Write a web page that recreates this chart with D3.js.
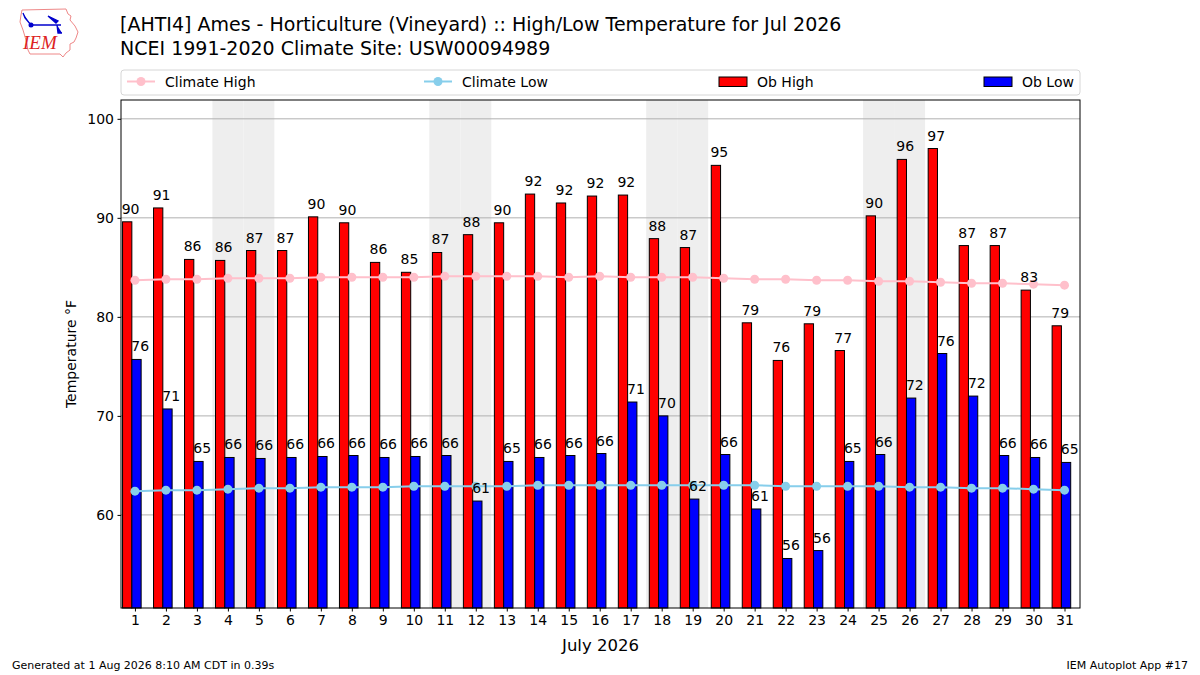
<!DOCTYPE html>
<html>
<head>
<meta charset="utf-8">
<script src="https://cdn.jsdelivr.net/npm/d3@7"></script>
<style>
  body { margin: 0; background: #fff; }
  svg { font-family: "DejaVu Sans", sans-serif; }
</style>
</head>
<body>
<div id="chart"></div>
<script>
// data
var days = d3.range(1, 32);
var obHigh = [89.6, 91.0, 85.8, 85.7, 86.7, 86.7, 90.1, 89.5, 85.5, 84.5,
              86.5, 88.3, 89.5, 92.4, 91.5, 92.2, 92.3, 87.9, 87.0, 95.3,
              79.4, 75.6, 79.3, 76.6, 90.2, 95.9, 97.0, 87.2, 87.2, 82.7, 79.1];
var obLow = [75.7, 70.7, 65.4, 65.8, 65.7, 65.8, 65.9, 66.0, 65.8, 65.9,
             66.0, 61.4, 65.4, 65.8, 66.0, 66.2, 71.4, 70.0, 61.6, 66.1,
             60.6, 55.6, 56.4, 65.4, 66.1, 71.8, 76.3, 72.0, 66.0, 65.8, 65.3];
var climHigh = [83.7, 83.8, 83.8, 83.9, 83.9, 83.9, 84.0, 84.0, 84.0, 84.0,
                84.1, 84.1, 84.1, 84.1, 84.0, 84.1, 84.0, 84.0, 84.0, 83.9,
                83.8, 83.8, 83.7, 83.7, 83.6, 83.6, 83.5, 83.4, 83.4, 83.3, 83.2];
var climLow = [62.4, 62.5, 62.5, 62.6, 62.7, 62.7, 62.8, 62.8, 62.8, 62.9,
               62.9, 62.9, 62.9, 63.0, 63.0, 63.0, 63.0, 63.0, 63.0, 63.0,
               63.0, 62.9, 62.9, 62.9, 62.9, 62.8, 62.8, 62.7, 62.7, 62.6, 62.5];
var weekendDays = [4, 5, 11, 12, 18, 19, 25, 26];
var yTicks = [60, 70, 80, 90, 100];

var W = 1200, H = 675;
var margin = {top: 100, right: 120, bottom: 67, left: 121},
    width = W - margin.left - margin.right,
    height = H - margin.top - margin.bottom;

var svg = d3.select("#chart")
  .append("svg")
    .attr("width", W)
    .attr("height", H);

// logo
var logo = svg.append("g");
logo.append("path")
    .attr("d", "M22,10 L66,9 L68,14 L71,16 L70,20 L75,26 L78,32 L76,38 L74,42 L70,44 L70,50 L66,53 L63,57 L60,54 L30,54 L28,50 L26,40 L23,30 L20,22 L21,15 Z")
    .attr("fill", "none").attr("stroke", "#e88").attr("stroke-width", 1);
logo.append("line").attr("x1", 31).attr("y1", 25).attr("x2", 61).attr("y2", 25)
    .attr("stroke", "#00c").attr("stroke-width", 1.5);
logo.append("circle").attr("cx", 31).attr("cy", 25).attr("r", 2.5).attr("fill", "#00c");
logo.append("path").attr("d", "M23,13 L25,18 L31,25 M48,16 L58,21 L56,23 Z M57,25 L58,33 L62,33")
    .attr("stroke", "#00c").attr("fill", "#00c").attr("stroke-width", 1.3);
logo.append("text").attr("x", 23).attr("y", 49)
    .style("font-family", "'Liberation Serif', serif").style("font-style", "italic")
    .style("font-size", "19px").attr("fill", "#d22").text("IEM");

// titles
svg.append("text").attr("x", 120).attr("y", 31)
    .style("font-size", "19px")
    .text("[AHTI4] Ames - Horticulture (Vineyard) :: High/Low Temperature for Jul 2026");
svg.append("text").attr("x", 120).attr("y", 55)
    .style("font-size", "19px")
    .text("NCEI 1991-2020 Climate Site: USW00094989");

var g = svg.append("g")
    .attr("transform", "translate(" + margin.left + "," + margin.top + ")");

var x = d3.scaleLinear().domain([0.55, 31.5]).range([0, width]);
var y = d3.scaleLinear().domain([50.6, 101.9]).range([height, 0]);
var dayW = x(1) - x(0);

// weekend shading
g.selectAll(".wk").data(weekendDays).enter().append("rect")
    .attr("x", d => x(d - 0.5))
    .attr("width", dayW)
    .attr("y", 0).attr("height", height)
    .attr("fill", "#eeeeee");

// grid
g.selectAll(".grid").data(yTicks).enter().append("line")
    .attr("x1", 0).attr("x2", width)
    .attr("y1", d => y(d)).attr("y2", d => y(d))
    .attr("stroke", "#b0b0b0").attr("stroke-width", 1);

// bars
g.selectAll(".hi").data(days).enter().append("rect")
    .attr("x", d => x(d - 0.4))
    .attr("width", x(0.3) - x(0))
    .attr("y", (d, i) => y(obHigh[i]))
    .attr("height", (d, i) => height - y(obHigh[i]))
    .attr("fill", "red").attr("stroke", "black").attr("stroke-width", 1);
g.selectAll(".lo").data(days).enter().append("rect")
    .attr("x", d => x(d - 0.1))
    .attr("width", x(0.3) - x(0))
    .attr("y", (d, i) => y(obLow[i]))
    .attr("height", (d, i) => height - y(obLow[i]))
    .attr("fill", "blue").attr("stroke", "black").attr("stroke-width", 1);

// climate lines
var line = d3.line().x(d => x(d[0])).y(d => y(d[1]));
function climLine(vals, color) {
  var pts = days.map((d, i) => [d, vals[i]]);
  g.append("path").datum(pts).attr("d", line)
      .attr("fill", "none").attr("stroke", color).attr("stroke-width", 2);
  g.selectAll(null).data(pts).enter().append("circle")
      .attr("cx", d => x(d[0])).attr("cy", d => y(d[1]))
      .attr("r", 4.5).attr("fill", color);
}
climLine(climHigh, "pink");
climLine(climLow, "skyblue");

// bar labels
g.selectAll(".hil").data(days).enter().append("text")
    .attr("x", d => x(d - 0.14))
    .attr("y", (d, i) => y(obHigh[i]) - 8)
    .attr("text-anchor", "middle").style("font-size", "14px")
    .text((d, i) => Math.round(obHigh[i]));
g.selectAll(".lol").data(days).enter().append("text")
    .attr("x", d => x(d + 0.17))
    .attr("y", (d, i) => y(obLow[i]) - 8)
    .attr("text-anchor", "middle").style("font-size", "14px")
    .text((d, i) => Math.round(obLow[i]));

// axes
var xAxis = g.append("g")
    .attr("transform", "translate(0," + height + ")")
    .call(d3.axisBottom(x).tickValues(days).tickSize(3.5).tickPadding(3.5));
var yAxis = g.append("g")
    .call(d3.axisLeft(y).tickValues(yTicks).tickSize(3.5).tickPadding(3.5));
[xAxis, yAxis].forEach(function(a) {
  a.selectAll("text").style("font-size", "14px").style("font-family", "DejaVu Sans").attr("fill", "black");
  a.select(".domain").remove();
});

// frame
g.append("rect").attr("width", width).attr("height", height)
    .attr("fill", "none").attr("stroke", "black").attr("stroke-width", 1);

// axis labels
g.append("text")
    .attr("x", width / 2).attr("y", height + 43)
    .attr("text-anchor", "middle").style("font-size", "16.5px")
    .text("July 2026");
g.append("text")
    .attr("transform", "rotate(-90)")
    .attr("x", -height / 2 + 0).attr("y", -45)
    .attr("text-anchor", "middle").style("font-size", "14px")
    .text("Temperature °F");

// legend
var leg = svg.append("g");
leg.append("rect").attr("x", 121).attr("y", 70).attr("width", width).attr("height", 25)
    .attr("rx", 3).attr("fill", "white").attr("stroke", "#d6d6d6");
var legItems = [
  {name: "Climate High", kind: "line", color: "pink", x0: 127},
  {name: "Climate Low", kind: "line", color: "skyblue", x0: 424},
  {name: "Ob High", kind: "bar", color: "red", x0: 719},
  {name: "Ob Low", kind: "bar", color: "blue", x0: 984}
];
legItems.forEach(function(it) {
  if (it.kind == "line") {
    leg.append("line").attr("x1", it.x0).attr("x2", it.x0 + 28).attr("y1", 81.5).attr("y2", 81.5)
        .attr("stroke", it.color).attr("stroke-width", 2);
    leg.append("circle").attr("cx", it.x0 + 14).attr("cy", 81.5).attr("r", 4.5).attr("fill", it.color);
  } else {
    leg.append("rect").attr("x", it.x0).attr("y", 77).attr("width", 28).attr("height", 9.5)
        .attr("fill", it.color).attr("stroke", "black").attr("stroke-width", 1);
  }
  leg.append("text").attr("x", it.x0 + 38).attr("y", 86.5)
      .style("font-size", "14px").text(it.name);
});

// footer
svg.append("text").attr("x", 12).attr("y", 669)
    .style("font-size", "11px").text("Generated at 1 Aug 2026 8:10 AM CDT in 0.39s");
svg.append("text").attr("x", 1188).attr("y", 669).attr("text-anchor", "end")
    .style("font-size", "11px").text("IEM Autoplot App #17");
</script>
</body>
</html>
